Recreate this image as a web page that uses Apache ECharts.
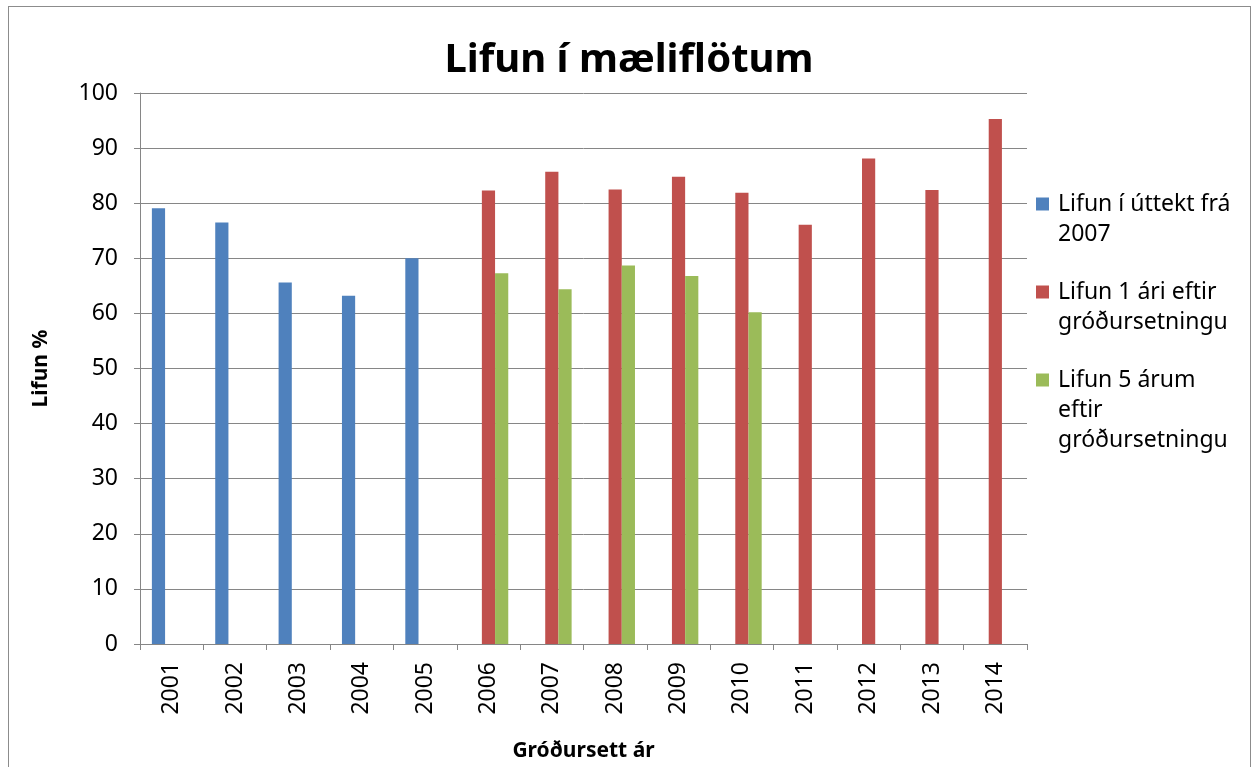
<!DOCTYPE html>
<html>
<head>
<meta charset="utf-8">
<title>Lifun í mæliflötum</title>
<script src="https://cdn.jsdelivr.net/npm/echarts@6/dist/echarts.min.js"></script>
<style>
  html, body { margin: 0; padding: 0; background: #fff; overflow: hidden; }
  #frame { position: absolute; left: 8px; top: 6px; width: 1243px; height: 800px; border: 1px solid #8c8c8c; box-sizing: border-box; }
  #chart { position: absolute; left: 0; top: 0; width: 1258px; height: 767px; }
</style>
</head>
<body>
<div id="frame"></div>
<div id="chart"></div>
<script>
// ár og gildi
var years = ["2001", "2002", "2003", "2004", "2005", "2006", "2007", "2008", "2009", "2010", "2011", "2012", "2013", "2014"];
var uttekt2007 = [79.1, 76.5, 65.6, 63.2, 70.0, null, null, null, null, null, null, null, null, null];
var eftir1Ar = [null, null, null, null, null, 82.3, 85.7, 82.5, 84.8, 81.9, 76.1, 88.1, 82.4, 95.3];
var eftir5Ar = [null, null, null, null, null, 67.3, 64.4, 68.7, 66.8, 60.2, null, null, null, null];
var seriesNames = ["Lifun í úttekt frá 2007", "Lifun 1 ári eftir gróðursetningu", "Lifun 5 árum eftir gróðursetningu"];
// línuskipting í skýringum eins og í frumriti
var legendLines = [
  ["Lifun í úttekt frá", "2007"],
  ["Lifun 1 ári eftir", "gróðursetningu"],
  ["Lifun 5 árum", "eftir", "gróðursetningu"]
];
var colors = ["#4F81BD", "#C0504D", "#9BBB59"];

var gridColor = "#868686";
var font = "'Noto Sans', sans-serif";

window.addEventListener("load", function() {
  var chart = echarts.init(document.getElementById("chart"), null, { renderer: "canvas" });

  chart.setOption({
    animation: false,
    backgroundColor: "transparent",
    textStyle: { fontFamily: font, color: "#000" },
    title: {
      text: "Lifun í mæliflötum",
      left: "center",
      top: 36,
      textStyle: { fontFamily: font, fontSize: 40, fontWeight: "bold", color: "#000" }
    },
    legend: {
      orient: "vertical",
      left: 1026,
      top: 184,
      itemWidth: 0,
      itemHeight: 0,
      itemGap: 28,
      selectedMode: false,
      data: seriesNames,
      formatter: function(name) {
        var i = seriesNames.indexOf(name);
        var lines = legendLines[i];
        var out = "{sq" + i + "|\u00a0}{gap|\u00a0}" + lines[0];
        for (var k = 1; k < lines.length; k++) {
          out += "\n{ind|\u00a0}" + lines[k];
        }
        return out;
      },
      textStyle: {
        fontFamily: font,
        fontSize: 23,
        lineHeight: 30,
        color: "#000",
        rich: {
          sq0: { width: 13, height: 13, backgroundColor: colors[0] },
          sq1: { width: 13, height: 13, backgroundColor: colors[1] },
          sq2: { width: 13, height: 13, backgroundColor: colors[2] },
          gap: { width: 9 },
          ind: { width: 22 }
        }
      }
    },
    grid: { left: 140, right: 231, top: 93, bottom: 120, containLabel: false },
    xAxis: {
      type: "category",
      data: years,
      name: "Gróðursett ár",
      nameLocation: "middle",
      nameGap: 97,
      nameTextStyle: { fontFamily: font, fontSize: 21, fontWeight: "bold", color: "#000" },
      axisLine: { lineStyle: { color: gridColor, width: 1 } },
      axisTick: { show: true, length: 6, lineStyle: { color: gridColor } },
      axisLabel: { rotate: 90, margin: 18, fontFamily: font, fontSize: 23, color: "#000" }
    },
    yAxis: {
      type: "value",
      min: 0,
      max: 100,
      interval: 10,
      name: "Lifun %",
      nameLocation: "middle",
      nameGap: 88,
      nameTextStyle: { fontFamily: font, fontSize: 21, fontWeight: "bold", color: "#000" },
      axisLine: { show: true, lineStyle: { color: gridColor, width: 1 } },
      axisTick: { show: true, length: 6, lineStyle: { color: gridColor } },
      axisLabel: { margin: 22, fontFamily: font, fontSize: 23, color: "#000" },
      splitLine: { lineStyle: { color: gridColor, width: 1 } }
    },
    series: [
      { name: seriesNames[0], type: "bar", data: uttekt2007, itemStyle: { color: colors[0] }, barGap: "0%", barCategoryGap: "37.5%" },
      { name: seriesNames[1], type: "bar", data: eftir1Ar, itemStyle: { color: colors[1] }, barGap: "0%", barCategoryGap: "37.5%" },
      { name: seriesNames[2], type: "bar", data: eftir5Ar, itemStyle: { color: colors[2] }, barGap: "0%", barCategoryGap: "37.5%" }
    ]
  });
});
</script>
</body>
</html>
